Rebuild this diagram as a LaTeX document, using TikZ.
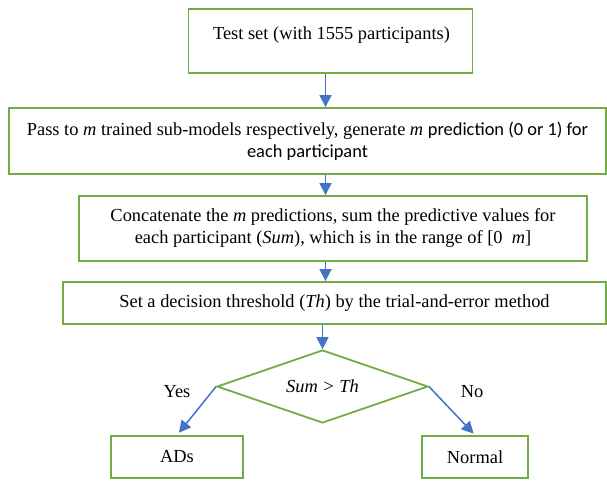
\documentclass[tikz,border=0pt]{standalone}
\usepackage{fontspec}
\setmainfont{Liberation Serif}
\newfontfamily\calib{Carlito}
\usetikzlibrary{arrows.meta,shapes.geometric}
\definecolor{boxgreen}{HTML}{70AD47}
\definecolor{arrowblue}{HTML}{4472C4}
\tikzset{
  box/.style={draw=boxgreen, line width=1.8pt, rectangle, inner sep=0pt, align=center},
  decide/.style={draw=boxgreen, line width=1.8pt, diamond, inner sep=0pt, aspect=2.9},
  flow/.style={draw=arrowblue, line width=1.5pt, -{Triangle[length=12pt,width=12pt]}},
  lbl/.style={inner sep=0pt}
}
\begin{document}
\begin{tikzpicture}[x=1pt, y=-1pt, font=\fontsize{18.4}{22}\selectfont]
\useasboundingbox (0,0) rectangle (607,480);

% first step: the test set
\node[box, minimum width=284, minimum height=64] (b1) at (330.5,41) {};
\node[lbl] (t1) at (331.5,35) {Test set (with 1555 participants)};

% sub-model predictions
\node[box, minimum width=597, minimum height=66] (b2) at (307.5,141)
  {Pass to \textit{m} trained sub-models respectively, generate \textit{m} {\calib prediction (0 or 1) for}\\[0pt]{\calib each participant}};

% summing the predictions
\node[box, minimum width=508, minimum height=65] (b3) at (333,228.5)
  {Concatenate the \textit{m} predictions, sum the predictive values for\\each participant (\textit{Sum}), which is in the range of [0\ \ \textit{m}]};

% threshold selection
\node[box, minimum width=543, minimum height=42] (b4) at (334.5,303)
  {Set a decision threshold (\textit{Th}) by the trial-and-error method};

% decision
\node[decide, minimum width=211, minimum height=73] (d) at (322.5,386.5) {\textit{Sum > Th}};

% outcomes
\node[box, minimum width=132, minimum height=42] (ads) at (177,457) {ADs};
\node[box, minimum width=106, minimum height=42] (nor) at (475,457) {Normal};

\node[lbl] (yes) at (177,392) {Yes};
\node[lbl] (no) at (472,392) {No};

% connectors
\draw[flow] (b1.south -| 325.5,0) -- (b2.north -| 325.5,0);
\draw[flow] (b2.south -| 325.5,0) -- (b3.north -| 325.5,0);
\draw[flow] (b3.south -| 325.5,0) -- (b4.north -| 325.5,0);
\draw[flow] (b4.south -| d.north) -- (d.north);
\draw[flow, shorten >=3pt] (d.west) -- (ads.north);
\draw[flow, shorten >=2pt] (d.east) -- (nor.north);
\end{tikzpicture}
\end{document}
